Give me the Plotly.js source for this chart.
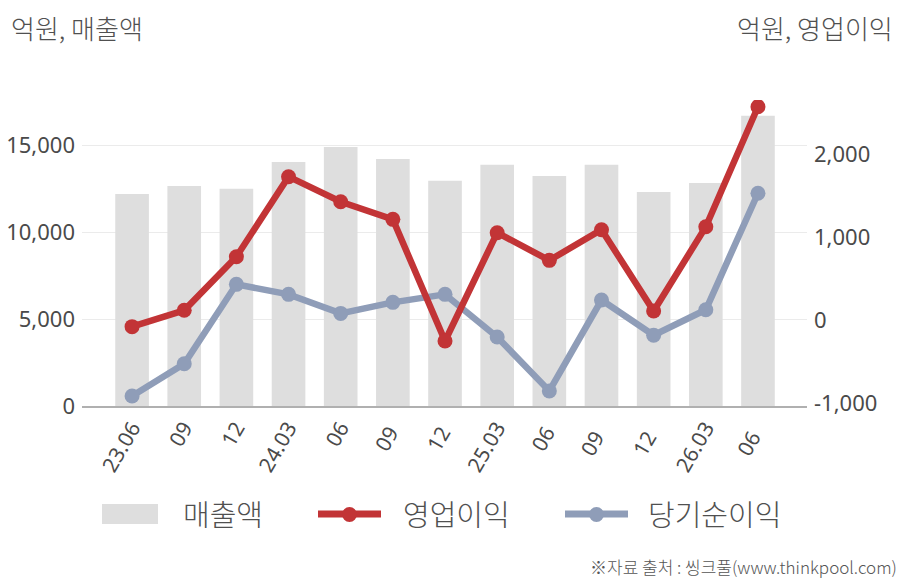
<!DOCTYPE html>
<html>
<head>
<meta charset="utf-8">
<script src="https://cdn.plot.ly/plotly-3.0.1.min.js"></script>
<style>
html,body{margin:0;padding:0;background:#fff;}
#chart{width:908px;height:580px;}
</style>
</head>
<body>
<div id="chart"></div>
<script>
var categories = ["23.06","09","12","24.03","06","09 ","12 ","25.03","06 ","09  ","12  ","26.03","06  "];
var sales = [12200, 12660, 12490, 14040, 14900, 14210, 12950, 13870, 13230, 13870, 12310, 12830, 16690];
var opProfit = [-80, 117, 763, 1727, 1425, 1213, -253, 1052, 719, 1088, 108, 1124, 2570];
var netProfit = [-916, -527, 430, 309, 80, 213, 309, -205, -855, 241, -184, 124, 1527];
var leftTicks = [0, 5000, 10000, 15000];
var rightTicks = [-1000, 0, 1000, 2000];

var FONT = "'Noto Sans', 'Noto Sans CJK KR', sans-serif";
var KFONT = "'Noto Sans CJK KR', 'Noto Sans', sans-serif";
var TXT = "#4a4a4a";
var RED = "#C23436";
var BLUE = "#8F9DB8";
var GRAYBAR = "#DEDEDE";

var traces = [
  {type:"bar", name:"매출액", x:categories, y:sales, marker:{color:GRAYBAR}, yaxis:"y", hoverinfo:"skip"},
  {type:"scatter", mode:"lines+markers", name:"당기순이익", x:categories, y:netProfit, yaxis:"y2",
   line:{color:BLUE, width:6.5}, marker:{color:BLUE, size:15}},
  {type:"scatter", mode:"lines+markers", name:"영업이익", x:categories, y:opProfit, yaxis:"y2",
   line:{color:RED, width:6.5}, marker:{color:RED, size:15}}
];

var L = 82, W = 725, B = 406, H = 306;
function px(x){ return (x - L) / W; }
function py(y){ return (B - y) / H; }
function kf(size){ return {size:size, color:"#505050", family:KFONT, weight:300}; }

var layout = {
  width:908, height:580,
  margin:{l:82, r:101, t:100, b:174},
  paper_bgcolor:"#fff", plot_bgcolor:"#fff",
  showlegend:false,
  bargap:0.355,
  font:{family:FONT, color:TXT},
  xaxis:{type:"category", range:[-0.96, 12.94], tickangle:-60,
    tickfont:{size:21, color:TXT, family:FONT}, showgrid:false, zeroline:false,
    showline:true, linecolor:"#B0B0B0", linewidth:1.5, ticks:"", fixedrange:true},
  yaxis:{range:[0, 17600], tickvals:leftTicks, ticktext:["0","5,000","10,000","15,000"],
    tickfont:{size:22, color:TXT, family:FONT}, showgrid:true, gridcolor:"#EBEBEB", gridwidth:1,
    zeroline:false, showline:false, ticks:"", ticklabelstandoff:6},
  yaxis2:{overlaying:"y", side:"right", range:[-1036, 2651], tickvals:rightTicks,
    ticktext:["-1,000","0","1,000","2,000"],
    tickfont:{size:22, color:TXT, family:FONT}, showgrid:false, zeroline:false, showline:false,
    ticks:"", ticklabelstandoff:6},
  annotations:[
    {xref:"paper", yref:"paper", x:px(9), y:py(28), xanchor:"left", yanchor:"middle",
     text:"억원, 매출액", showarrow:false, font:kf(26)},
    {xref:"paper", yref:"paper", x:px(895), y:py(28), xanchor:"right", yanchor:"middle",
     text:"억원, 영업이익", showarrow:false, font:kf(26)},
    {xref:"paper", yref:"paper", x:px(181), y:py(513), xanchor:"left", yanchor:"middle",
     text:"매출액", showarrow:false, font:kf(29)},
    {xref:"paper", yref:"paper", x:px(401), y:py(513), xanchor:"left", yanchor:"middle",
     text:"영업이익", showarrow:false, font:kf(29)},
    {xref:"paper", yref:"paper", x:px(646), y:py(513), xanchor:"left", yanchor:"middle",
     text:"당기순이익", showarrow:false, font:kf(29)},
    {xref:"paper", yref:"paper", x:px(899), y:py(566), xanchor:"right", yanchor:"middle",
     text:"※자료 출처 : 씽크풀(www.thinkpool.com)", showarrow:false, font:{size:17, color:"#555", family:KFONT, weight:300}}
  ],
  shapes:[
    {type:"rect", xref:"paper", yref:"paper", x0:px(102), x1:px(158),
     y0:py(504), y1:py(524), fillcolor:GRAYBAR, line:{width:0}},
    {type:"line", xref:"paper", yref:"paper", x0:px(318), x1:px(381),
     y0:py(514), y1:py(514), line:{color:RED, width:7}},
    {type:"circle", xref:"paper", yref:"paper", x0:px(342), x1:px(357),
     y0:py(507), y1:py(522), fillcolor:RED, line:{width:0}},
    {type:"line", xref:"paper", yref:"paper", x0:px(565), x1:px(628),
     y0:py(514), y1:py(514), line:{color:BLUE, width:7}},
    {type:"circle", xref:"paper", yref:"paper", x0:px(589), x1:px(604),
     y0:py(507), y1:py(522), fillcolor:BLUE, line:{width:0}}
  ]
};

Plotly.newPlot("chart", traces, layout, {displayModeBar:false, staticPlot:true});
</script>
</body>
</html>
